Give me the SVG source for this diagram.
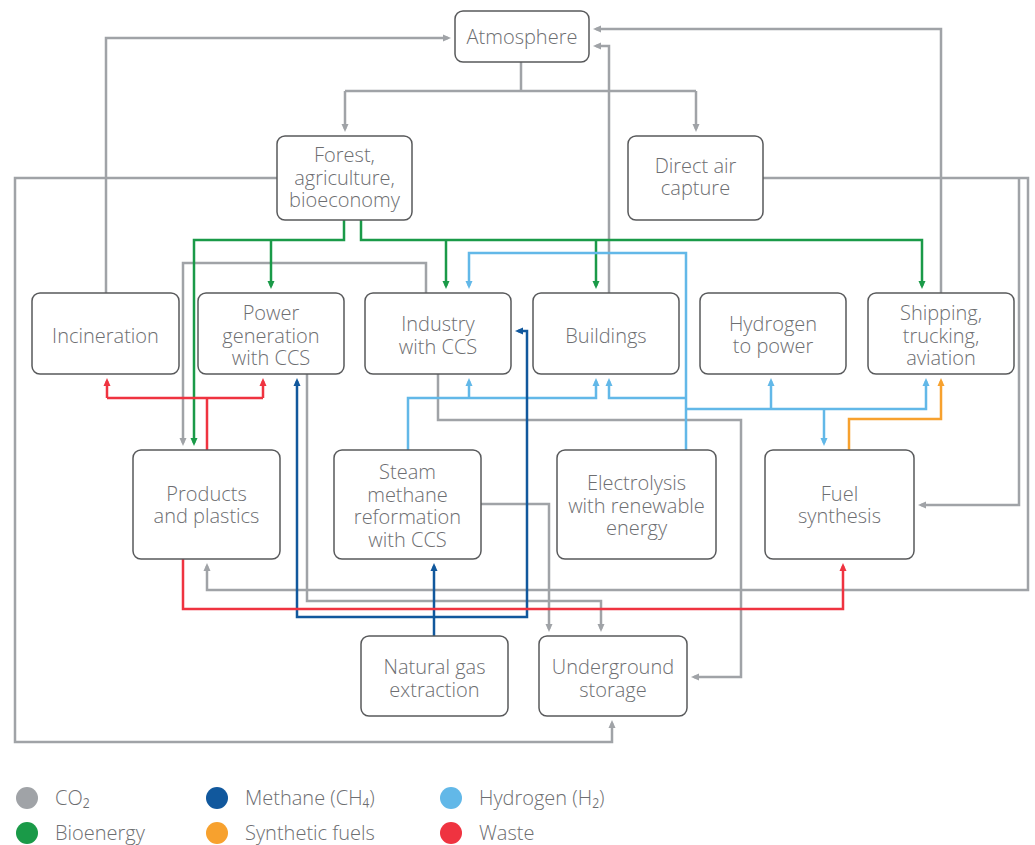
<svg xmlns="http://www.w3.org/2000/svg" width="1035" height="845" viewBox="0 0 1035 845">
<style>
.box{fill:#fff;stroke:#58595b;stroke-width:1.5}
.t{font-family:"Open Sans","Noto Sans","DejaVu Sans",sans-serif;font-weight:300;font-size:20px;fill:#6d6e71;text-anchor:middle}
.lg{font-family:"Open Sans","Noto Sans","DejaVu Sans",sans-serif;font-weight:300;font-size:20px;fill:#6d6e71}
.c{fill:none;stroke-width:2.5;stroke-linejoin:miter}
.g{stroke:#a0a3a7}.gr{stroke:#1a9a48}.lb{stroke:#62b8e8}.db{stroke:#11589d}.or{stroke:#f7a12e}.rd{stroke:#ef3340}
</style>
<defs>
<marker id="ag" viewBox="0 0 8 8" markerWidth="8" markerHeight="8" refX="5" refY="4" orient="auto" markerUnits="userSpaceOnUse"><path d="M0,0.5 L8,4 L0,7.5 z" fill="#a0a3a7"/></marker>
<marker id="agr" viewBox="0 0 8 8" markerWidth="8" markerHeight="8" refX="5" refY="4" orient="auto" markerUnits="userSpaceOnUse"><path d="M0,0.5 L8,4 L0,7.5 z" fill="#1a9a48"/></marker>
<marker id="alb" viewBox="0 0 8 8" markerWidth="8" markerHeight="8" refX="5" refY="4" orient="auto" markerUnits="userSpaceOnUse"><path d="M0,0.5 L8,4 L0,7.5 z" fill="#62b8e8"/></marker>
<marker id="adb" viewBox="0 0 8 8" markerWidth="8" markerHeight="8" refX="5" refY="4" orient="auto" markerUnits="userSpaceOnUse"><path d="M0,0.5 L8,4 L0,7.5 z" fill="#11589d"/></marker>
<marker id="aor" viewBox="0 0 8 8" markerWidth="8" markerHeight="8" refX="5" refY="4" orient="auto" markerUnits="userSpaceOnUse"><path d="M0,0.5 L8,4 L0,7.5 z" fill="#f7a12e"/></marker>
<marker id="ard" viewBox="0 0 8 8" markerWidth="8" markerHeight="8" refX="5" refY="4" orient="auto" markerUnits="userSpaceOnUse"><path d="M0,0.5 L8,4 L0,7.5 z" fill="#ef3340"/></marker>
</defs>
<rect width="1035" height="845" fill="#fff"/>
<g id="connectors">
<!-- CO2 grey -->
<path class="c g" d="M106,293 V38 H448" marker-end="url(#ag)"/>
<path class="c g" d="M521,62 V91 M345,91 H696"/>
<path class="c g" d="M345,91 V129" marker-end="url(#ag)"/>
<path class="c g" d="M696,91 V129" marker-end="url(#ag)"/>
<path class="c g" d="M609,293 V46 H596" marker-end="url(#ag)"/>
<path class="c g" d="M941,293 V29 H596" marker-end="url(#ag)"/>
<path class="c g" d="M277,178 H15 V742 H612 V723" marker-end="url(#ag)"/>
<path class="c g" d="M763,178 H1028 V590 H207 V566" marker-end="url(#ag)"/>
<path class="c g" d="M1019,178 V505 H921" marker-end="url(#ag)"/>
<path class="c g" d="M426,293 V263 H183 V443" marker-end="url(#ag)"/>
<path class="c g" d="M438,374 V420 H741 V677 H694" marker-end="url(#ag)"/>
<path class="c g" d="M307,374 V601 H601 V629" marker-end="url(#ag)"/>
<path class="c g" d="M481,504 H549 V629" marker-end="url(#ag)"/>
<!-- Bioenergy green -->
<path class="c gr" d="M344,220 V240 H194 V443" marker-end="url(#agr)"/>
<path class="c gr" d="M271,240 V286" marker-end="url(#agr)"/>
<path class="c gr" d="M361,220 V240 H922 V286" marker-end="url(#agr)"/>
<path class="c gr" d="M446,240 V286" marker-end="url(#agr)"/>
<path class="c gr" d="M596,240 V286" marker-end="url(#agr)"/>
<!-- Hydrogen light blue -->
<path class="c lb" d="M686,450 V253 H469 V286" marker-end="url(#alb)"/>
<path class="c lb" d="M686,398 H609 V381" marker-end="url(#alb)"/>
<path class="c lb" d="M686,409 H926 V381" marker-end="url(#alb)"/>
<path class="c lb" d="M771,409 V381" marker-end="url(#alb)"/>
<path class="c lb" d="M824,409 V443" marker-end="url(#alb)"/>
<path class="c lb" d="M408,450 V398 H596 V381" marker-end="url(#alb)"/>
<path class="c lb" d="M469,398 V381" marker-end="url(#alb)"/>
<!-- Synthetic fuels orange -->
<path class="c or" d="M849,450 V419 H941 V381" marker-end="url(#aor)"/>
<!-- Methane dark blue -->
<path class="c db" d="M434,636 V566" marker-end="url(#adb)"/>
<path class="c db" d="M434,617 H297 V381" marker-end="url(#adb)"/>
<path class="c db" d="M434,617 H527 V331 H518" marker-end="url(#adb)"/>
<!-- Waste red -->
<path class="c rd" d="M207,450 V398 M107,398 H263"/>
<path class="c rd" d="M107,398 V381" marker-end="url(#ard)"/>
<path class="c rd" d="M263,398 V381" marker-end="url(#ard)"/>
<path class="c rd" d="M183,559 V609 H843 V566" marker-end="url(#ard)"/>
</g>
<g id="atmosphere"><rect class="box" x="455" y="11" width="134" height="51" rx="8"/><text class="t" x="522" y="44">Atmosphere</text></g>
<g id="forest"><rect class="box" x="277" y="136" width="135" height="84" rx="8"/><text class="t" x="344.5" y="162">Forest,</text><text class="t" x="344.5" y="185">agriculture,</text><text class="t" x="344.5" y="207">bioeconomy</text></g>
<g id="dac"><rect class="box" x="628" y="136" width="135" height="84" rx="8"/><text class="t" x="695.5" y="173">Direct air</text><text class="t" x="695.5" y="195">capture</text></g>
<g id="incineration"><rect class="box" x="32" y="293" width="147" height="81" rx="8"/><text class="t" x="105.5" y="343">Incineration</text></g>
<g id="power"><rect class="box" x="198" y="293" width="146" height="81" rx="8"/><text class="t" x="271" y="320">Power</text><text class="t" x="271" y="343">generation</text><text class="t" x="271" y="365">with CCS</text></g>
<g id="industry"><rect class="box" x="365" y="293" width="146" height="81" rx="8"/><text class="t" x="438" y="331">Industry</text><text class="t" x="438" y="354">with CCS</text></g>
<g id="buildings"><rect class="box" x="533" y="293" width="146" height="81" rx="8"/><text class="t" x="606" y="343">Buildings</text></g>
<g id="h2power"><rect class="box" x="700" y="293" width="146" height="81" rx="8"/><text class="t" x="773" y="331">Hydrogen</text><text class="t" x="773" y="353">to power</text></g>
<g id="shipping"><rect class="box" x="868" y="293" width="146" height="81" rx="8"/><text class="t" x="941" y="320">Shipping,</text><text class="t" x="941" y="343">trucking,</text><text class="t" x="941" y="365">aviation</text></g>
<g id="products"><rect class="box" x="133" y="450" width="147" height="109" rx="8"/><text class="t" x="206.5" y="501">Products</text><text class="t" x="206.5" y="523">and plastics</text></g>
<g id="smr"><rect class="box" x="334" y="450" width="147" height="109" rx="8"/><text class="t" x="407.5" y="479">Steam</text><text class="t" x="407.5" y="502">methane</text><text class="t" x="407.5" y="524">reformation</text><text class="t" x="407.5" y="547">with CCS</text></g>
<g id="electrolysis"><rect class="box" x="557" y="450" width="159" height="109" rx="8"/><text class="t" x="636.5" y="490">Electrolysis</text><text class="t" x="636.5" y="513">with renewable</text><text class="t" x="636.5" y="535">energy</text></g>
<g id="fuel"><rect class="box" x="765" y="450" width="149" height="109" rx="8"/><text class="t" x="839.5" y="501">Fuel</text><text class="t" x="839.5" y="523">synthesis</text></g>
<g id="naturalgas"><rect class="box" x="361" y="636" width="147" height="80" rx="8"/><text class="t" x="434.5" y="674">Natural gas</text><text class="t" x="434.5" y="697">extraction</text></g>
<g id="underground"><rect class="box" x="539" y="636" width="148" height="80" rx="8"/><text class="t" x="613" y="674">Underground</text><text class="t" x="613" y="697">storage</text></g>
<g id="legend">
<circle cx="27" cy="798" r="11" fill="#a0a3a7"/><text class="lg" x="55" y="805">CO₂</text>
<circle cx="217" cy="798" r="11" fill="#11589d"/><text class="lg" x="245" y="805">Methane (CH₄)</text>
<circle cx="451" cy="798" r="11" fill="#62b8e8"/><text class="lg" x="479" y="805">Hydrogen (H₂)</text>
<circle cx="27" cy="833" r="11" fill="#1a9a48"/><text class="lg" x="55" y="840">Bioenergy</text>
<circle cx="217" cy="833" r="11" fill="#f7a12e"/><text class="lg" x="245" y="840">Synthetic fuels</text>
<circle cx="451" cy="833" r="11" fill="#ef3340"/><text class="lg" x="479" y="840">Waste</text>
</g>
</svg>
